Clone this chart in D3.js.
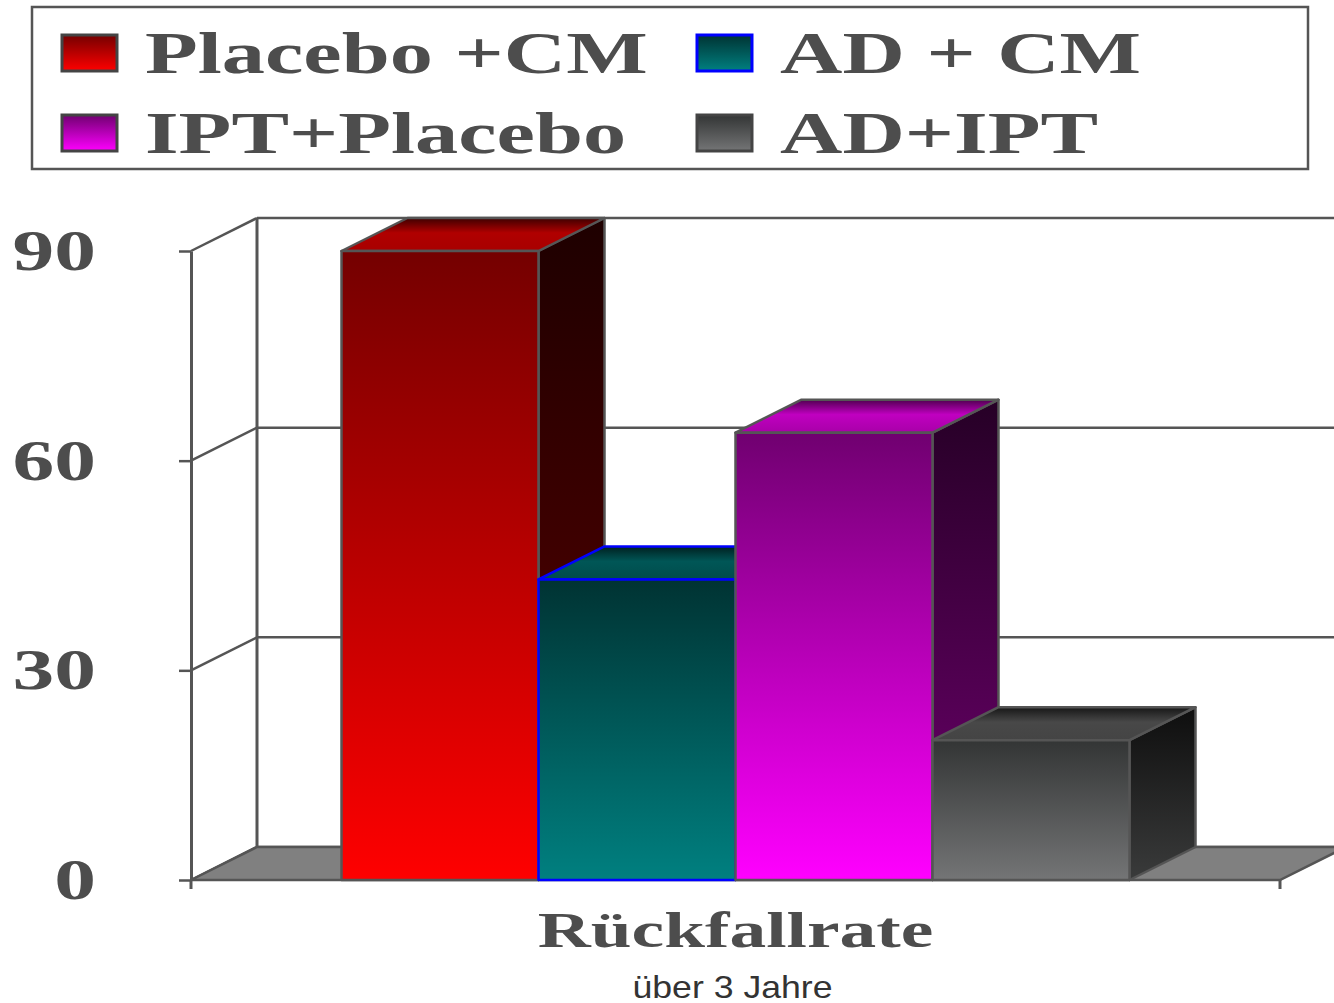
<!DOCTYPE html>
<html>
<head>
<meta charset="utf-8">
<script src="https://cdn.jsdelivr.net/npm/d3@7"></script>
<style>
  html, body { margin: 0; padding: 0; background: #fff; }
  svg { display: block; }
</style>
</head>
<body>
<svg id="chart" width="1334" height="1003"></svg>
<script>
// data
const categories = ["Rückfallrate"];
const seriesNames = ["Placebo +CM", "AD + CM", "IPT+Placebo", "AD+IPT"];
const values = [90, 43, 64, 20];
const yTicks = [0, 30, 60, 90];
const subtitle = "über 3 Jahre";

// looks
const seriesStyle = [
    {front: ["#740000", "#ff0000"], side: ["#1e0000", "#5e0000"], top: ["#3e0000", "#b00000", "#a80000"], stroke: "#555"},
    {front: ["#003333", "#008080"], side: ["#001a1a", "#003c3c"], top: ["#002020", "#005656", "#004c4c"], stroke: "#0000ff"},
    {front: ["#700070", "#ff00ff"], side: ["#260026", "#6e006e"], top: ["#500050", "#c000c0", "#a800a8"], stroke: "#555"},
    {front: ["#333535", "#747576"], side: ["#0e0e0e", "#3a3b3b"], top: ["#161616", "#484848", "#444"], stroke: "#555"}
];
const INK = "#4d4d4d";
const LINE = "#555";
const STRETCH = 1.44;
const SERIF = "'Liberation Serif', 'Times New Roman', serif";
const DX = 66, DY = 33;

const svg = d3.select("#chart");
const defs = svg.append("defs");

function grad(id, c) {
    let g = defs.append("linearGradient")
        .attr("id", id)
        .attr("x1", 0).attr("y1", 0)
        .attr("x2", 0).attr("y2", 1);
    c.forEach((col, k) => {
        g.append("stop").attr("offset", (c.length === 3 ? [0, 45, 100][k] : k * 100) + "%").attr("stop-color", col);
    });
}
seriesStyle.forEach((s, i) => {
    grad("front" + i, s.front);
    grad("side" + i, s.side);
    grad("top" + i, s.top);
});

const y = d3.scaleLinear().domain([0, 90]).range([880, 251]);
const x = d3.scaleBand().domain(categories).range([191, 1280]);
const barsWidth = 788;
const xs = d3.scaleBand()
    .domain(seriesNames)
    .range([x(categories[0]) + x.bandwidth() / 2 - barsWidth / 2,
            x(categories[0]) + x.bandwidth() / 2 + barsWidth / 2]);

const [xl, xr] = x.range();

// back wall grid
const wall = svg.append("g").attr("stroke", LINE).attr("stroke-width", 2.5).attr("fill", "none");
yTicks.forEach(v => {
    wall.append("line")
        .attr("x1", xl + DX).attr("x2", xr + DX + 20)
        .attr("y1", y(v) - DY).attr("y2", y(v) - DY);
    wall.append("line")
        .attr("x1", xl).attr("y1", y(v))
        .attr("x2", xl + DX).attr("y2", y(v) - DY);
});
wall.append("line")
    .attr("x1", xl + DX).attr("x2", xl + DX)
    .attr("y1", y(90) - DY).attr("y2", y(0) - DY)
    .attr("stroke-width", 3);

// floor
svg.append("polygon")
    .attr("points", [[xl, y(0)], [xr, y(0)], [xr + DX, y(0) - DY], [xl + DX, y(0) - DY]].join(" "))
    .attr("fill", "#808080")
    .attr("stroke", LINE)
    .attr("stroke-width", 2.5);

// front axis
const axis = svg.append("g")
    .attr("transform", "translate(" + xl + ",0)")
    .call(d3.axisLeft(y).tickValues(yTicks).tickSize(12).tickSizeOuter(0).tickPadding(0));
axis.select(".domain").attr("stroke", LINE).attr("stroke-width", 3);
axis.selectAll(".tick line").attr("stroke", LINE).attr("stroke-width", 2.5);
axis.selectAll(".tick text")
    .attr("x", -95 / STRETCH)
    .attr("transform", "scale(" + STRETCH + ",1)")
    .attr("fill", INK)
    .style("font-family", SERIF)
    .style("font-weight", "bold")
    .style("font-size", "58px");

// bottom edge ticks at the band ends
[xl, xr].forEach(px => {
    svg.append("line")
        .attr("x1", px).attr("x2", px)
        .attr("y1", y(0)).attr("y2", y(0) + 9)
        .attr("stroke", LINE).attr("stroke-width", 3);
});

// bars
const bars = svg.append("g").selectAll("g")
    .data(seriesNames.map((name, i) => ({name, value: values[i], i})))
    .join("g")
    .attr("stroke", d => seriesStyle[d.i].stroke)
    .attr("stroke-width", 2.5)
    .attr("stroke-linejoin", "round");

bars.append("polygon")
    .attr("points", d => {
        let x1 = xs(d.name) + xs.bandwidth(), yt = y(d.value), y0 = y(0);
        return [[x1, yt], [x1 + DX, yt - DY], [x1 + DX, y0 - DY], [x1, y0]].join(" ");
    })
    .attr("fill", d => "url(#side" + d.i + ")")
    .attr("stroke", LINE);

bars.append("polygon")
    .attr("points", d => {
        let x0 = xs(d.name), x1 = x0 + xs.bandwidth(), yt = y(d.value);
        return [[x0, yt], [x1, yt], [x1 + DX, yt - DY], [x0 + DX, yt - DY]].join(" ");
    })
    .attr("fill", d => "url(#top" + d.i + ")");

bars.append("rect")
    .attr("x", d => xs(d.name))
    .attr("y", d => y(d.value))
    .attr("width", xs.bandwidth())
    .attr("height", d => y(0) - y(d.value))
    .attr("fill", d => "url(#front" + d.i + ")");

// category label
svg.append("g")
    .attr("transform", "translate(" + (x(categories[0]) + x.bandwidth() / 2) + ",947) scale(" + STRETCH + ",1)")
    .append("text")
    .attr("text-anchor", "middle")
    .attr("fill", INK)
    .style("font-family", SERIF)
    .style("font-weight", "bold")
    .style("font-size", "51px")
    .text(categories[0]);

svg.append("g")
    .attr("transform", "translate(" + (x(categories[0]) + x.bandwidth() / 2 - 3) + ",998) scale(1.15,1)")
    .append("text")
    .attr("text-anchor", "middle")
    .attr("fill", "#333")
    .style("font-family", "'Liberation Sans', Arial, sans-serif")
    .style("font-size", "31px")
    .text(subtitle);

// legend
svg.append("rect")
    .attr("x", 32).attr("y", 7)
    .attr("width", 1276).attr("height", 162)
    .attr("fill", "none")
    .attr("stroke", LINE)
    .attr("stroke-width", 2.5);

const legend = svg.append("g").selectAll("g")
    .data(seriesNames.map((name, i) => ({name, i})))
    .join("g")
    .attr("transform", d => "translate(" + (62 + (d.i % 2) * 635) + "," + (35 + Math.floor(d.i / 2) * 80) + ")");

legend.append("rect")
    .attr("width", 55).attr("height", 36)
    .attr("fill", d => "url(#front" + d.i + ")")
    .attr("stroke", d => seriesStyle[d.i].stroke === LINE ? "#444" : seriesStyle[d.i].stroke)
    .attr("stroke-width", 3);

legend.append("g")
    .attr("transform", "translate(83,38) scale(" + STRETCH + ",1)")
    .append("text")
    .attr("fill", INK)
    .style("font-family", SERIF)
    .style("font-weight", "bold")
    .style("font-size", "60px")
    .text(d => d.name);
</script>
</body>
</html>
